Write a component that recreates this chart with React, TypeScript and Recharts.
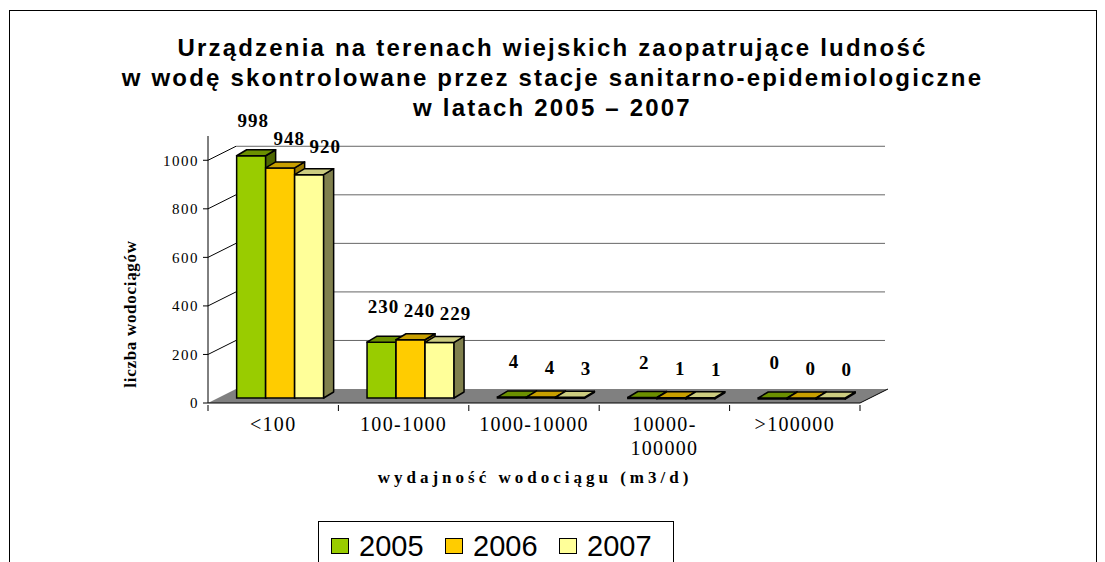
import React from 'react';
import { BarChart, Bar, XAxis, YAxis, CartesianGrid, LabelList } from 'recharts';

const categories = ['<100', '100-1000', '1000-10000', '10000-\n100000', '>100000'];
const years = ['2005', '2006', '2007'];
const values2005 = [998, 230, 4, 2, 0];
const values2006 = [948, 240, 4, 1, 0];
const values2007 = [920, 229, 3, 1, 0];
const yTicks = [0, 200, 400, 600, 800, 1000];

const data = categories.map((name, i) => ({
  name,
  y2005: values2005[i],
  y2006: values2006[i],
  y2007: values2007[i],
}));

const palette = [
  { front: '#99cc00', top: '#6b9000', side: '#4d6600' },
  { front: '#ffcc00', top: '#c89f00', side: '#997a00' },
  { front: '#ffff99', top: '#cccc80', side: '#80804d' },
];

// pseudo-3D geometry (px)
const WALL_DX = 28;
const WALL_DY = 14;
const BAR_SHIFT_X = 7;
const BAR_SHIFT_Y = -5;
const BAR_DX = 10;
const BAR_DY = 6;
const PLOT_TOP = 136;
const PLOT_LEFT = 208;
const PLOT_RIGHT = 860;
const BAND = (PLOT_RIGHT - PLOT_LEFT) / categories.length;

const serif = '"Liberation Serif", "Times New Roman", serif';
const sans = '"Liberation Sans", Arial, sans-serif';

const gridLine = (p: any) => {
  const { x1, x2, y1 } = p;
  // no line on the top edge of the back wall
  if (y1 < PLOT_TOP + 2) return <g key={p.key} />;
  const isFloor = y1 > 400;
  if (isFloor) {
    const pts = `${x1},${y1} ${x2},${y1} ${x2 + WALL_DX},${y1 - WALL_DY} ${x1 + WALL_DX},${y1 - WALL_DY}`;
    return (
      <g key={p.key}>
        <polygon points={pts} fill="#808080" />
        <line x1={x2} y1={y1} x2={x2 + WALL_DX} y2={y1 - WALL_DY} stroke="#000" strokeWidth={1} />
      </g>
    );
  }
  return (
    <g key={p.key}>
      <line x1={x1} y1={y1} x2={x1 + WALL_DX} y2={y1 - WALL_DY} stroke="#000" strokeWidth={1} />
      <line x1={x1 + WALL_DX} y1={y1 - WALL_DY} x2={x2 + WALL_DX - 3} y2={y1 - WALL_DY} stroke="#666" strokeWidth={1} />
    </g>
  );
};

const makeBar = (idx: number) => (p: any) => {
  const { x, y, width, height } = p;
  const c = palette[idx];
  const X = x + BAR_SHIFT_X;
  const Y = y + BAR_SHIFT_Y;
  const H = Math.max(height, 1);
  const top = `${X},${Y} ${X + BAR_DX},${Y - BAR_DY} ${X + width + BAR_DX},${Y - BAR_DY} ${X + width},${Y}`;
  const side = `${X + width},${Y} ${X + width + BAR_DX},${Y - BAR_DY} ${X + width + BAR_DX},${Y + H - BAR_DY} ${X + width},${Y + H}`;
  return (
    <g>
      <rect x={X} y={Y} width={width} height={H} fill={c.front} stroke="#000" strokeWidth={1.5} />
      <polygon points={side} fill={c.side} stroke="#000" strokeWidth={1.5} strokeLinejoin="round" />
      <polygon points={top} fill={c.top} stroke="#000" strokeWidth={1.5} strokeLinejoin="round" />
    </g>
  );
};

const makeLabel = (dx: number, dy: number) => (p: any) => {
  const { x, y, width, value } = p;
  return (
    <text
      x={x + width / 2 + BAR_SHIFT_X + dx}
      y={y + BAR_SHIFT_Y + dy}
      textAnchor="middle"
      fontFamily={serif}
      fontWeight="bold"
      fontSize={19}
      letterSpacing={1}
      fill="#000"
    >
      {value}
    </text>
  );
};

const XTick = (p: any) => {
  const { x, y, payload, index } = p;
  const lines = String(payload.value).split('\n');
  return (
    <g>
      <line x1={x - BAND / 2} y1={y} x2={x - BAND / 2} y2={y + 6} stroke="#000" />
      {index === categories.length - 1 && (
        <line x1={x + BAND / 2} y1={y} x2={x + BAND / 2} y2={y + 6} stroke="#000" />
      )}
      {lines.map((l, i) => (
        <text
          key={i}
          x={x}
          y={y + 26 + i * 24}
          textAnchor="middle"
          fontFamily={serif}
          fontSize={20}
          letterSpacing={1.3}
          fill="#000"
        >
          {l}
        </text>
      ))}
    </g>
  );
};

const labelOffsets = [
  [2, -29],
  [9, -23],
  [16, -22],
];
const keys = ['y2005', 'y2006', 'y2007'];

export default function App() {
  return (
    <div style={{ position: 'absolute', left: 0, top: 0, width: 1105, height: 562, overflow: 'hidden', background: '#fff' }}>
      <div style={{ position: 'absolute', left: 9, top: 10, width: 1086, height: 620, border: '1px solid #000' }} />
      <div
        style={{
          position: 'absolute',
          left: 0,
          top: 33,
          width: 1105,
          textAlign: 'center',
          fontFamily: sans,
          fontWeight: 'bold',
          fontSize: 24,
          letterSpacing: 2.2,
          lineHeight: '30px',
          color: '#000',
        }}
      >
        <div>Urządzenia na terenach wiejskich zaopatrujące ludność</div>
        <div>w wodę skontrolowane przez stacje sanitarno-epidemiologiczne</div>
        <div>w latach 2005 – 2007</div>
      </div>
      <BarChart
        width={1105}
        height={562}
        data={data}
        margin={{ top: PLOT_TOP, right: 245, left: 148, bottom: 129 }}
        barCategoryGap="16.6%"
        barGap={0}
        style={{ position: 'absolute', left: 0, top: 0 }}
      >
        <CartesianGrid vertical={false} horizontal={gridLine} />
        <XAxis
          dataKey="name"
          height={30}
          axisLine={{ stroke: '#000' }}
          tickLine={false}
          tickSize={0}
          tick={<XTick />}
          interval={0}
        />
        <YAxis
          width={60}
          domain={[0, 1100]}
          ticks={yTicks}
          axisLine={{ stroke: '#000' }}
          tickLine={{ stroke: '#000' }}
          tickSize={5}
          tickMargin={4}
          tick={{ fill: '#000', fontFamily: serif, fontSize: 15, letterSpacing: 1.5 }}
        />
        {keys.map((k, i) => (
          <Bar key={k} dataKey={k} name={years[i]} fill={palette[i].front} shape={makeBar(i)} isAnimationActive={false}>
            <LabelList dataKey={k} content={makeLabel(labelOffsets[i][0], labelOffsets[i][1])} />
          </Bar>
        ))}
      </BarChart>
      <div
        style={{
          position: 'absolute',
          left: 131,
          top: 314,
          transform: 'translate(-50%, -50%) rotate(-90deg)',
          fontFamily: serif,
          fontWeight: 'bold',
          fontSize: 17,
          letterSpacing: 0.7,
          whiteSpace: 'nowrap',
          color: '#000',
        }}
      >
        liczba wodociągów
      </div>
      <div
        style={{
          position: 'absolute',
          left: 535,
          top: 478,
          transform: 'translate(-50%, -50%)',
          fontFamily: serif,
          fontWeight: 'bold',
          fontSize: 17,
          letterSpacing: 4,
          whiteSpace: 'nowrap',
          color: '#000',
        }}
      >
        wydajność wodociągu (m3/d)
      </div>
      <div
        style={{
          position: 'absolute',
          left: 318,
          top: 521,
          width: 356,
          height: 60,
          border: '1px solid #000',
          display: 'flex',
          alignItems: 'flex-start',
          paddingTop: 9,
          paddingLeft: 12,
          boxSizing: 'border-box',
        }}
      >
        {years.map((y, i) => (
          <div key={y} style={{ display: 'flex', alignItems: 'center', width: 116.5 }}>
            <div style={{ width: 16, height: 14, background: palette[i].front, border: '1px solid #000', marginRight: 10 }} />
            <span style={{ fontFamily: sans, fontSize: 29, lineHeight: '30px', color: '#000' }}>{y}</span>
          </div>
        ))}
      </div>
    </div>
  );
}
